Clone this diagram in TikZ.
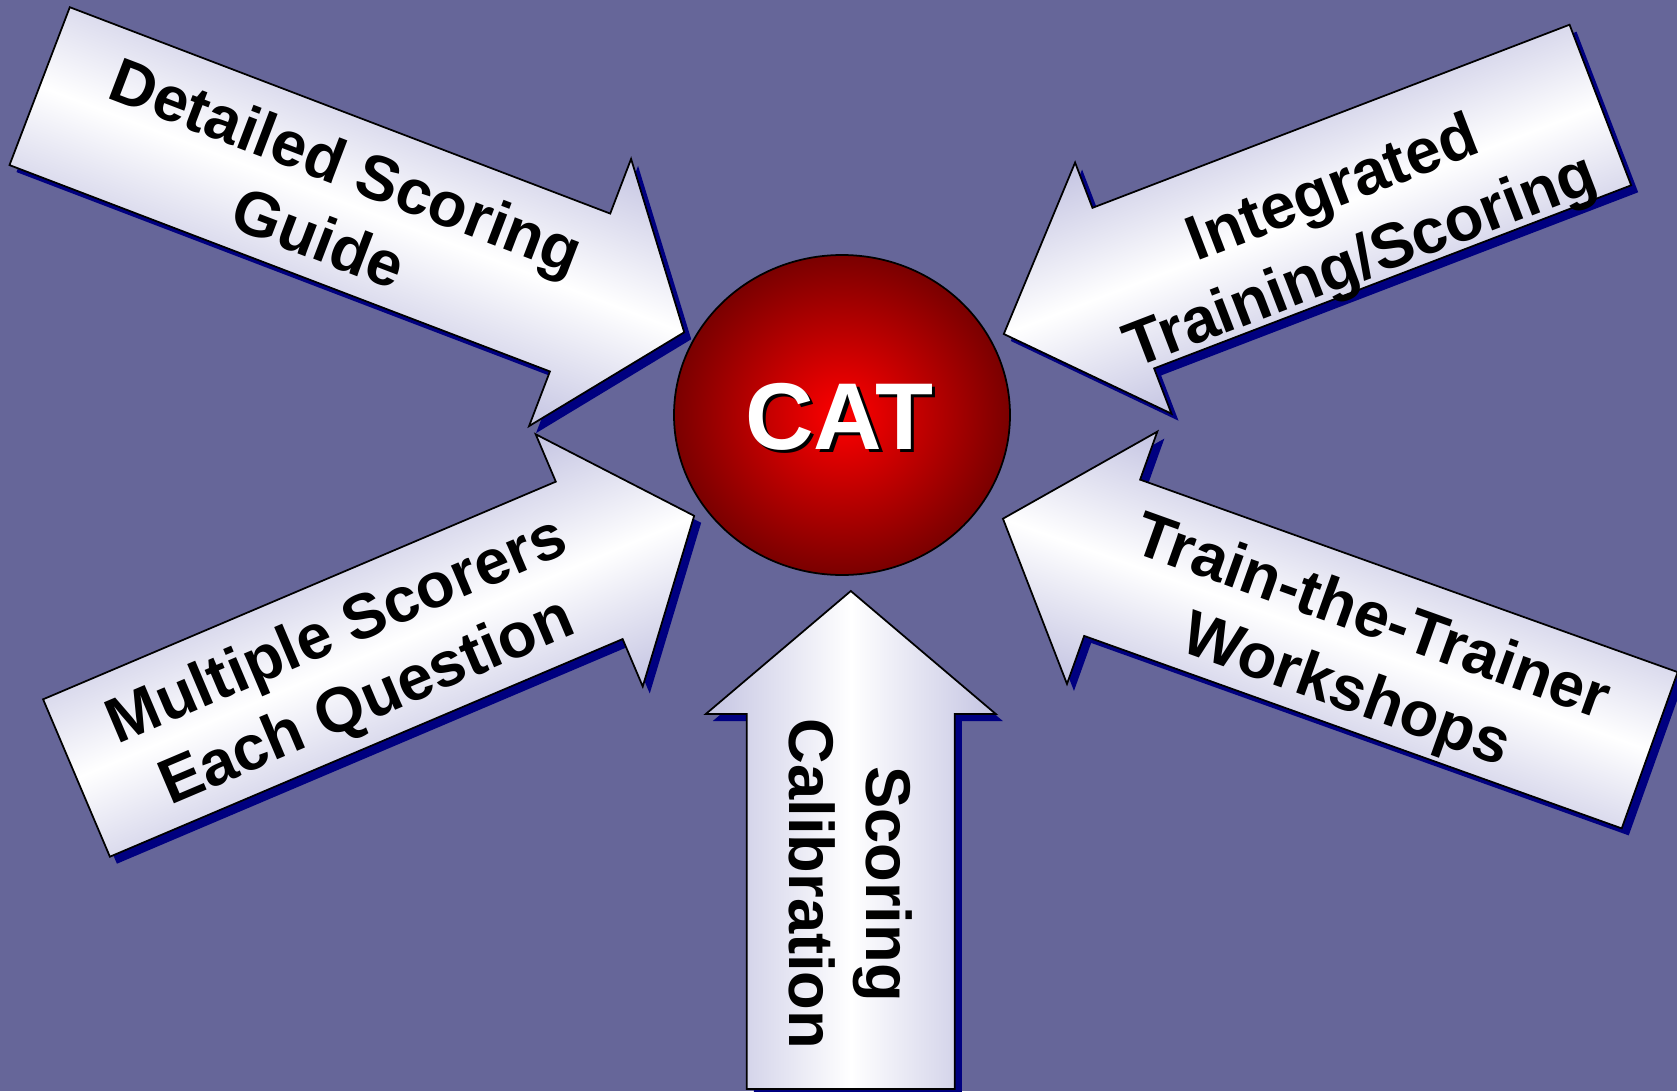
\documentclass[tikz,border=0pt]{standalone}
\usepackage{fontspec}
\setmainfont{Liberation Sans}
\usetikzlibrary{shapes.geometric}
\definecolor{slate}{RGB}{102,102,153}
\definecolor{lavender}{RGB}{196,196,226}
\definecolor{shadowblue}{RGB}{0,0,128}
\definecolor{catred}{RGB}{255,0,0}
\definecolor{catdark}{RGB}{122,0,0}
\begin{document}
\begin{tikzpicture}
   \tikzstyle{panel}=[draw=black, line width=0.5pt, top color=lavender, bottom color=lavender, middle color=white]
   \tikzstyle{drop}=[fill=shadowblue]
   \tikzstyle{label}=[font=\bfseries\fontsize{18}{22}\selectfont, align=center, text=black, inner sep=0pt, transform shape]
   \fill[slate] (0,0) rectangle (16.77,-10.91);
   \useasboundingbox (0,0) rectangle (16.77,-10.91);
   \foreach \cx/\cy/\ang/\ls/\lt/\w/\hw/\tx/\ty/\tr/\name/\txt in {
      0.3965/-0.8615/-20.9/5.785/6.90/0.845/1.43/3.15/-0.03/0/guide/{Detailed Scoring\\Guide},
      16.0035/-1.05/201/5.11/6.39/0.86/1.345/2.80/0.24/180/training/{Integrated\\Training/Scoring},
      0.765/-7.78/23/5.57/6.71/0.855/1.37/2.97/-0.07/0/scorers/{Multiple Scorers\\Each Question},
      16.497/-7.5025/160.3/5.71/6.87/0.83/1.34/3.06/0.10/180/workshops/{Train-the-Trainer\\Workshops},
      8.508/-10.89/90/3.75/4.98/1.04/1.45/2.05/0/180/calib/{Scoring\\Calibration}} {
      \fill[drop, transform canvas={shift={(\cx+0.07,\cy-0.07)}, rotate=\ang}]
         (0,\w) -- (\ls,\w) -- (\ls,\hw) -- (\lt,0) -- (\ls,-\hw) -- (\ls,-\w) -- (0,-\w) -- cycle;
      \draw[panel, transform canvas={shift={(\cx,\cy)}, rotate=\ang}]
         (0,\w) -- (\ls,\w) -- (\ls,\hw) -- (\lt,0) -- (\ls,-\hw) -- (\ls,-\w) -- (0,-\w) -- cycle;
      \begin{scope}[shift={(\cx,\cy)}, rotate=\ang]
         \node[label, rotate=\tr] (\name) at (\tx,\ty) {\txt};
      \end{scope}
   }
   \node[ellipse, draw=black, line width=0.5pt, minimum width=3.36cm, minimum height=3.2cm,
         inner color=catred, outer color=catdark] (cat) at (8.42,-4.15) {};
   \node[font=\bfseries\fontsize{27}{30}\selectfont, text=black, inner sep=0pt] (catshade) at (8.425,-4.2) {CAT};
   \node[font=\bfseries\fontsize{27}{30}\selectfont, text=white, inner sep=0pt] (catlabel) at (8.39,-4.165) {CAT};
\end{tikzpicture}
\end{document}
